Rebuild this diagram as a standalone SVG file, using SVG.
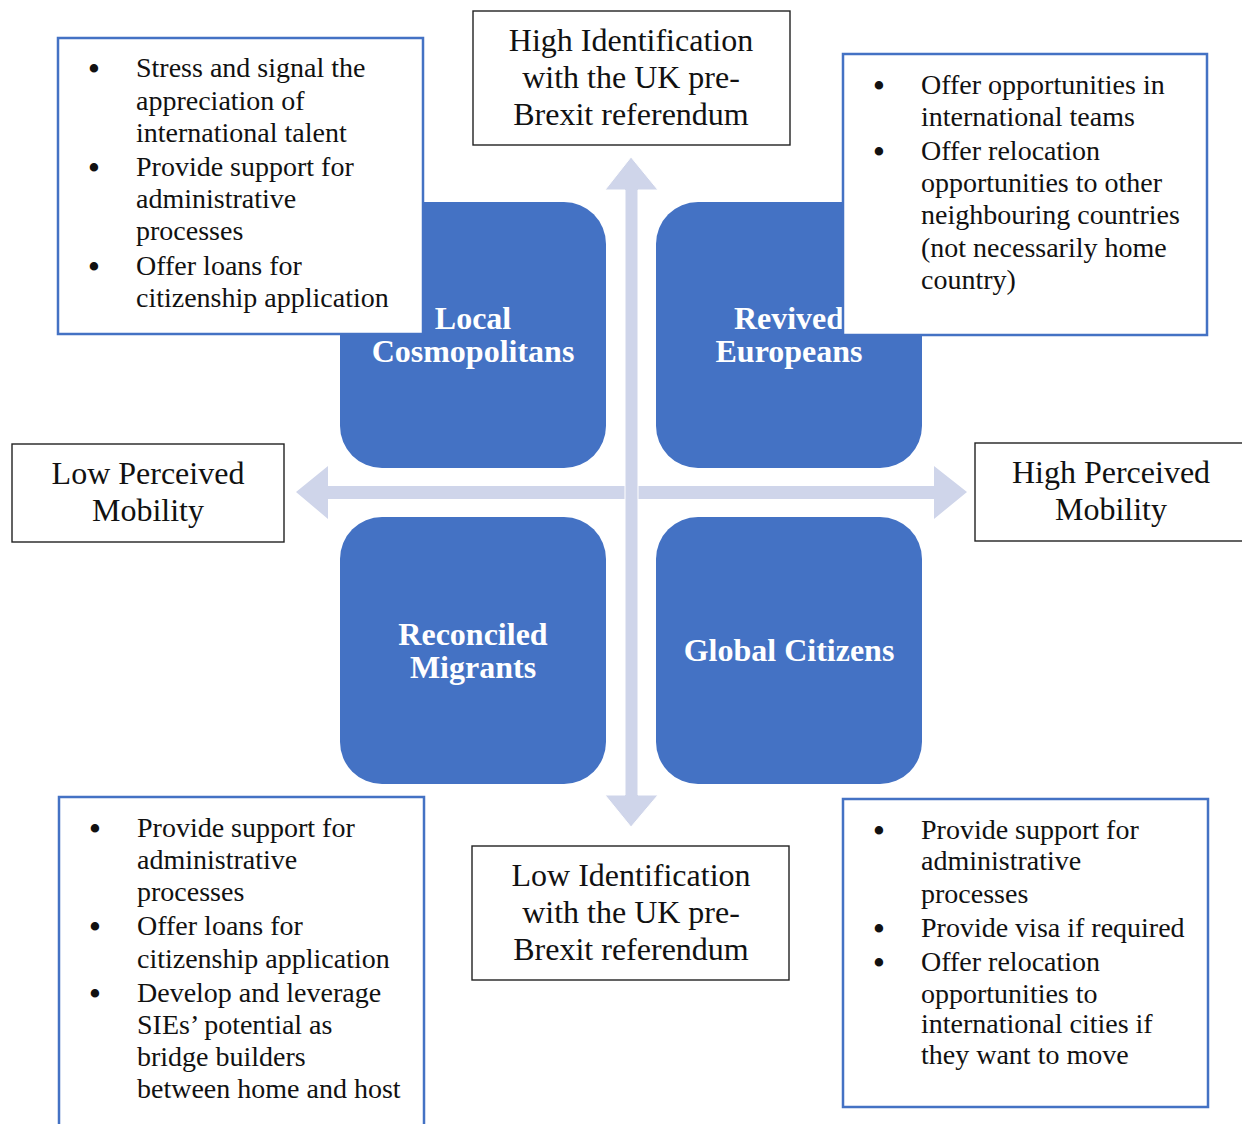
<svg xmlns="http://www.w3.org/2000/svg" width="1242" height="1124" viewBox="0 0 1242 1124">
<style>
.quad{fill:#4472C4;}
.ql{font-family:"Liberation Serif","Times New Roman",serif;font-weight:bold;font-size:32px;fill:#fff;text-anchor:middle;}
.axbox{fill:#fff;stroke:#222;stroke-width:1.4;}
.axt{font-family:"Liberation Serif","Times New Roman",serif;font-size:32px;fill:#111;text-anchor:middle;}
.bbox{fill:#fff;stroke:#4472C4;stroke-width:2.5;}
.bt{font-family:"Liberation Serif","Times New Roman",serif;font-size:28px;fill:#111;}
.bu{font-family:"Liberation Serif","Times New Roman",serif;font-size:31px;font-weight:bold;fill:#111;text-anchor:middle;}
.arrow{fill:#CFD5EA;}
</style>
<rect width="1242" height="1124" fill="#fff"/>
<g id="connectors">
<polygon class="arrow" points="296,492 328,466 328,486 934,486 934,466 967,492 934,519 934,499 328,499 328,519"/>
<polygon class="arrow" stroke="#fff" stroke-width="1" points="631,157 658,190 638,190 638,795 658,795 631,827 605,795 625,795 625,190 605,190"/>
</g>
<g id="local-cosmopolitans">
<rect class="quad" x="340" y="202" width="266" height="266" rx="42"/>
<text class="ql" x="473" y="329">Local</text>
<text class="ql" x="473" y="362">Cosmopolitans</text>
</g>
<g id="revived-europeans">
<rect class="quad" x="656" y="202" width="266" height="266" rx="42"/>
<text class="ql" x="789" y="329">Revived</text>
<text class="ql" x="789" y="362">Europeans</text>
</g>
<g id="reconciled-migrants">
<rect class="quad" x="340" y="517" width="266" height="267" rx="42"/>
<text class="ql" x="473" y="645">Reconciled</text>
<text class="ql" x="473" y="678">Migrants</text>
</g>
<g id="global-citizens">
<rect class="quad" x="656" y="517" width="266" height="267" rx="42"/>
<text class="ql" x="789" y="661">Global Citizens</text>
</g>
<g id="high-identification">
<rect class="axbox" x="473" y="11" width="317" height="134"/>
<text class="axt" x="631" y="51">High Identification</text>
<text class="axt" x="631" y="88">with the UK pre-</text>
<text class="axt" x="631" y="125">Brexit referendum</text>
</g>
<g id="low-identification">
<rect class="axbox" x="472" y="846" width="317" height="134"/>
<text class="axt" x="631" y="886">Low Identification</text>
<text class="axt" x="631" y="923">with the UK pre-</text>
<text class="axt" x="631" y="960">Brexit referendum</text>
</g>
<g id="low-mobility">
<rect class="axbox" x="12" y="444" width="272" height="98"/>
<text class="axt" x="148" y="484">Low Perceived</text>
<text class="axt" x="148" y="521">Mobility</text>
</g>
<g id="high-mobility">
<rect class="axbox" x="975" y="443" width="275" height="98"/>
<text class="axt" x="1111" y="483">High Perceived</text>
<text class="axt" x="1111" y="520">Mobility</text>
</g>
<g id="tl-actions">
<rect class="bbox" x="58" y="38" width="365" height="296"/>
<text class="bu" x="94" y="79">•</text>
<text class="bt" x="136" y="77">Stress and signal the</text>
<text class="bt" x="136" y="110">appreciation of</text>
<text class="bt" x="136" y="142">international talent</text>
<text class="bu" x="94" y="178">•</text>
<text class="bt" x="136" y="176">Provide support for</text>
<text class="bt" x="136" y="208">administrative</text>
<text class="bt" x="136" y="240">processes</text>
<text class="bu" x="94" y="277">•</text>
<text class="bt" x="136" y="275">Offer loans for</text>
<text class="bt" x="136" y="307">citizenship application</text>
</g>
<g id="tr-actions">
<rect class="bbox" x="843" y="54" width="364" height="281"/>
<text class="bu" x="879" y="96">•</text>
<text class="bt" x="921" y="94">Offer opportunities in</text>
<text class="bt" x="921" y="126">international teams</text>
<text class="bu" x="879" y="162">•</text>
<text class="bt" x="921" y="160">Offer relocation</text>
<text class="bt" x="921" y="192">opportunities to other</text>
<text class="bt" x="921" y="224">neighbouring countries</text>
<text class="bt" x="921" y="257">(not necessarily home</text>
<text class="bt" x="921" y="289">country)</text>
</g>
<g id="bl-actions">
<rect class="bbox" x="59" y="797" width="365" height="340"/>
<text class="bu" x="95" y="839">•</text>
<text class="bt" x="137" y="837">Provide support for</text>
<text class="bt" x="137" y="869">administrative</text>
<text class="bt" x="137" y="901">processes</text>
<text class="bu" x="95" y="937">•</text>
<text class="bt" x="137" y="935">Offer loans for</text>
<text class="bt" x="137" y="968">citizenship application</text>
<text class="bu" x="95" y="1004">•</text>
<text class="bt" x="137" y="1002">Develop and leverage</text>
<text class="bt" x="137" y="1034">SIEs’ potential as</text>
<text class="bt" x="137" y="1066">bridge builders</text>
<text class="bt" x="137" y="1098">between home and host</text>
</g>
<g id="br-actions">
<rect class="bbox" x="843" y="799" width="365" height="308"/>
<text class="bu" x="879" y="841">•</text>
<text class="bt" x="921" y="839">Provide support for</text>
<text class="bt" x="921" y="870">administrative</text>
<text class="bt" x="921" y="903">processes</text>
<text class="bu" x="879" y="939">•</text>
<text class="bt" x="921" y="937">Provide visa if required</text>
<text class="bu" x="879" y="973">•</text>
<text class="bt" x="921" y="971">Offer relocation</text>
<text class="bt" x="921" y="1003">opportunities to</text>
<text class="bt" x="921" y="1033">international cities if</text>
<text class="bt" x="921" y="1064">they want to move</text>
</g>
</svg>
